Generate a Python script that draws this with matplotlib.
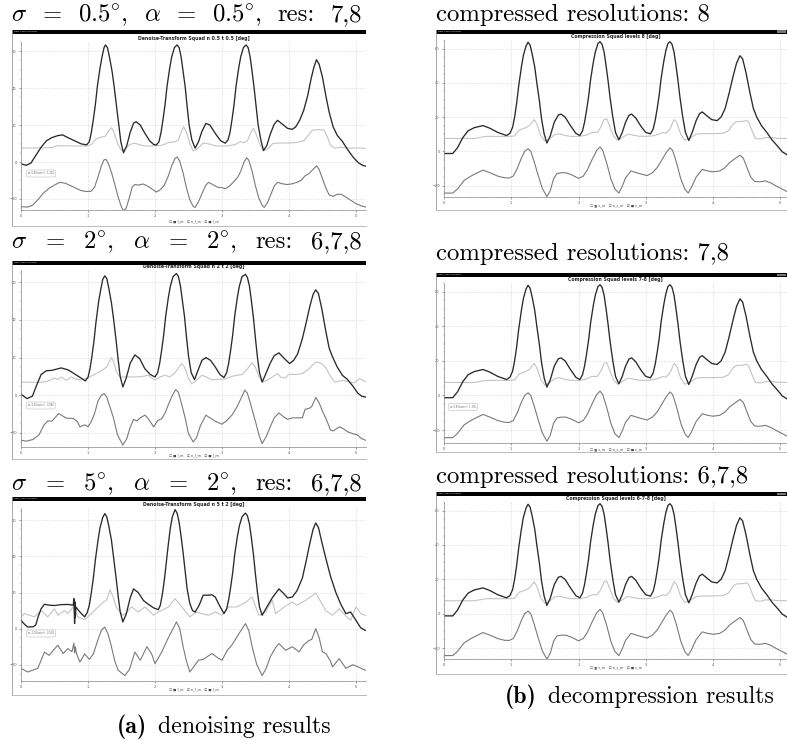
import numpy as np
import matplotlib.pyplot as plt
from matplotlib.patches import Rectangle
from matplotlib.lines import Line2D

plt.rcParams['mathtext.fontset'] = 'cm'

# ---- data: (x, deg) pairs ----
# left column, sigma 0.5 / alpha 0.5
a1_dark = [(0, -1.0), (0.08, -1.8), (0.15, -0.5), (0.22, 3.5), (0.3, 8), (0.38, 11.5), (0.46, 13.2), (0.55, 14.3),
           (0.62, 14.7), (0.7, 13.2), (0.8, 11.5), (0.9, 9.8),
           (0.98, 9.3), (1.02, 11), (1.05, 16), (1.08, 23), (1.11, 31), (1.14, 41), (1.18, 51), (1.21, 57),
           (1.24, 62), (1.26, 63.4), (1.29, 62), (1.32, 57), (1.36, 49), (1.39, 41), (1.43, 29), (1.46, 20),
           (1.49, 11), (1.53, 5),
           (1.58, 9), (1.63, 16), (1.68, 21), (1.72, 21.8), (1.78, 20), (1.85, 15.5), (1.92, 11.5), (1.98, 9.5),
           (2.02, 9.2), (2.06, 11), (2.09, 16), (2.12, 23), (2.15, 31), (2.18, 41), (2.22, 51), (2.25, 57),
           (2.29, 62), (2.33, 63.4), (2.36, 62), (2.39, 57), (2.42, 49), (2.45, 41), (2.48, 30), (2.51, 20),
           (2.55, 12), (2.6, 7.5),
           (2.65, 11), (2.7, 16.5), (2.76, 20.9), (2.82, 20), (2.9, 15.5), (2.98, 11.5),
           (3.05, 10.2), (3.09, 12), (3.12, 16), (3.15, 23), (3.18, 31), (3.21, 41), (3.25, 51), (3.28, 57),
           (3.32, 62), (3.36, 63.4), (3.39, 62), (3.42, 57), (3.45, 49), (3.48, 40), (3.51, 30), (3.54, 20),
           (3.58, 12), (3.62, 6.2),
           (3.67, 9), (3.72, 15), (3.78, 20.5), (3.83, 22.6), (3.9, 20.5), (3.98, 18.2), (4.05, 17.7), (4.1, 19),
           (4.16, 22.6), (4.22, 28), (4.28, 36), (4.33, 45), (4.37, 51), (4.41, 55.4), (4.45, 53), (4.5, 46),
           (4.55, 36), (4.6, 27), (4.66, 19), (4.72, 14.5), (4.8, 11), (4.88, 6.5), (4.96, 2.5), (5.04, -0.5),
           (5.1, -1.8), (5.15, -2.3)]
a1_light = [(0, 7.6), (0.3, 7.6), (0.45, 7.8), (0.55, 8.8), (0.7, 8.8), (0.9, 8.6), (1.0, 8.8), (1.05, 9.5),
            (1.12, 12.5), (1.2, 13.5), (1.26, 14), (1.3, 16.5), (1.35, 18.6), (1.39, 16), (1.44, 10), (1.5, 6.2),
            (1.55, 6.5), (1.62, 9.5), (1.7, 10.2), (1.8, 9), (1.9, 8.6), (2.0, 8.8), (2.1, 9), (2.2, 10.5),
            (2.3, 11), (2.35, 12), (2.4, 17), (2.43, 19), (2.47, 16), (2.52, 10), (2.57, 6), (2.63, 7),
            (2.72, 10.3), (2.8, 9.8), (2.9, 8.8), (3.0, 8.6), (3.1, 8.8), (3.2, 9.5), (3.27, 11), (3.33, 10.5),
            (3.38, 11.5), (3.43, 16), (3.47, 18.2), (3.5, 16), (3.56, 10), (3.62, 6.2), (3.68, 7), (3.76, 10),
            (3.85, 10.3), (4.0, 10.3), (4.12, 10.6), (4.22, 11.5), (4.3, 15), (4.35, 17.3), (4.45, 17.5),
            (4.52, 17.3), (4.57, 14), (4.62, 9), (4.68, 7.5), (4.78, 8), (4.9, 7.5), (5.0, 7.6), (5.15, 7.4)]
a1_mid = [(0, -24.2), (0.1, -24.4), (0.17, -23.5), (0.25, -20.5), (0.33, -17), (0.42, -14.2), (0.5, -12.5),
          (0.58, -11), (0.66, -11.5), (0.74, -12.8), (0.82, -14.2), (0.9, -15.5), (0.98, -16), (1.05, -15.8),
          (1.1, -13.5), (1.15, -8), (1.2, -2), (1.24, 1.2), (1.27, 1.4), (1.3, -0.5), (1.35, -5.5), (1.4, -12),
          (1.45, -19), (1.5, -24.5), (1.53, -26.4), (1.57, -25), (1.62, -19), (1.66, -13.5), (1.7, -12.2),
          (1.76, -12.5), (1.82, -11.9), (1.88, -12.8), (1.95, -14.5), (2.02, -16.3), (2.08, -15), (2.14, -12.5),
          (2.2, -7.5), (2.25, -2), (2.3, 2), (2.33, 2.7), (2.37, 0.5), (2.42, -6), (2.47, -14), (2.52, -20.5),
          (2.57, -24), (2.6, -24.6), (2.65, -21.5), (2.7, -17.2), (2.76, -12.5), (2.8, -11), (2.86, -12.2),
          (2.93, -13.6), (3.0, -13.9), (3.05, -14.5), (3.12, -12.8), (3.18, -10.5), (3.24, -8), (3.28, -5),
          (3.33, 0), (3.37, 2.3), (3.4, 1), (3.45, -5), (3.5, -13), (3.55, -19.5), (3.6, -23.5), (3.63, -24.6),
          (3.68, -22), (3.73, -17.5), (3.78, -13), (3.83, -11), (3.9, -11.8), (3.97, -12.2), (4.05, -11.8),
          (4.12, -11), (4.18, -10), (4.24, -7.5), (4.3, -6.2), (4.36, -4), (4.41, -2.1), (4.45, -4), (4.5, -9),
          (4.55, -14), (4.6, -17.8), (4.66, -18.6), (4.72, -17.5), (4.78, -17.5), (4.85, -19), (4.92, -20.7),
          (5.0, -22.5), (5.08, -23.8), (5.15, -24.4)]

# left column, sigma 2 / alpha 2
a2_dark = [(0, 0.5), (0.09, -1.8), (0.17, -0.5), (0.23, 5), (0.3, 11), (0.38, 13), (0.46, 13.2), (0.6, 14.5),
           (0.7, 13.5), (0.77, 12), (0.88, 9.5),
           (0.96, 7.6), (1.0, 9.5), (1.03, 14), (1.06, 21), (1.09, 29), (1.12, 39), (1.16, 50), (1.19, 56),
           (1.22, 61.5), (1.25, 63.4), (1.28, 62), (1.31, 57), (1.35, 49), (1.38, 41), (1.42, 29), (1.45, 19),
           (1.48, 10), (1.52, 4.4),
           (1.57, 9), (1.63, 17), (1.7, 21.4), (1.77, 19.5), (1.85, 14), (1.93, 11),
           (2.0, 9.7), (2.04, 12), (2.07, 17), (2.1, 24), (2.13, 32), (2.16, 42), (2.2, 52), (2.23, 58),
           (2.27, 63), (2.32, 64.6), (2.35, 63), (2.38, 58), (2.41, 50), (2.44, 42), (2.47, 31), (2.5, 21),
           (2.54, 12), (2.59, 8.3),
           (2.64, 13), (2.7, 18.5), (2.76, 20), (2.83, 18.5), (2.9, 15), (2.97, 11),
           (3.03, 9.4), (3.07, 12), (3.1, 17), (3.13, 24), (3.16, 32), (3.19, 42), (3.23, 52), (3.26, 58),
           (3.3, 63), (3.35, 64.2), (3.38, 62.5), (3.41, 58), (3.44, 50), (3.47, 41), (3.5, 30), (3.53, 20),
           (3.56, 12), (3.6, 7),
           (3.65, 11), (3.72, 17), (3.78, 21), (3.85, 22.5), (3.93, 19.5), (4.01, 16.8), (4.07, 18.5), (4.13, 22),
           (4.2, 30), (4.26, 39), (4.31, 47), (4.36, 53.5), (4.4, 56), (4.44, 54), (4.49, 46), (4.55, 34),
           (4.6, 25), (4.65, 20.4), (4.72, 15), (4.8, 10.5), (4.87, 8.5), (4.95, 5), (5.03, 1), (5.09, -0.6),
           (5.15, -1)]
a2_light = [(0, 7), (0.3, 6.8), (0.4, 7.5), (0.5, 9.2), (0.55, 8.3), (0.6, 9.7), (0.68, 7.9), (0.75, 9.7),
            (0.82, 8.5), (0.9, 8.1), (1.0, 9.2), (1.05, 10.2), (1.15, 12), (1.2, 13), (1.28, 15), (1.35, 20),
            (1.38, 18), (1.43, 12), (1.48, 9.7), (1.6, 9.7), (1.7, 9.7), (1.8, 9.9), (1.9, 10.6), (2.0, 8),
            (2.08, 9.8), (2.15, 10.6), (2.22, 9.7), (2.3, 12), (2.36, 15), (2.4, 16.8), (2.44, 15), (2.5, 9),
            (2.55, 6), (2.62, 8), (2.7, 10.6), (2.78, 9.5), (2.85, 8.1), (2.95, 8.5), (3.05, 8.7), (3.15, 10),
            (3.22, 10.6), (3.3, 11), (3.38, 14), (3.45, 17.2), (3.5, 15), (3.55, 10), (3.6, 7), (3.68, 8),
            (3.75, 9.7), (3.83, 11.5), (3.88, 9.5), (3.95, 9.2), (4.0, 11.2), (4.1, 11), (4.2, 11.5), (4.3, 14),
            (4.38, 17), (4.42, 17.7), (4.5, 16.5), (4.55, 14.5), (4.62, 10), (4.68, 7), (4.75, 7.5), (4.82, 7.9),
            (4.9, 7), (4.97, 6.5), (5.05, 8.8), (5.1, 8), (5.15, 7)]
a2_mid = [(0, -23.9), (0.08, -24.4), (0.18, -23.5), (0.27, -21), (0.34, -16), (0.4, -13.6), (0.46, -13.8),
          (0.52, -11.5), (0.56, -9.7), (0.62, -11), (0.68, -12.2), (0.78, -12.3), (0.84, -14), (0.88, -16.8),
          (0.93, -16), (0.96, -15.8), (1.0, -16.8), (1.05, -14), (1.1, -9.5), (1.15, -3), (1.2, 0), (1.24, 0.9),
          (1.28, -1), (1.33, -6.5), (1.38, -12), (1.44, -21), (1.52, -26.5), (1.58, -23), (1.63, -17),
          (1.68, -12.9), (1.73, -13.6), (1.78, -12), (1.85, -10.6), (1.9, -12.5), (1.98, -16.8), (2.04, -13.5),
          (2.1, -12.5), (2.15, -9.5), (2.2, -5), (2.26, 0), (2.31, 3), (2.35, 1.5), (2.4, -5), (2.45, -12),
          (2.5, -20.4), (2.57, -24.8), (2.62, -22.5), (2.68, -16), (2.76, -10.6), (2.82, -12), (2.9, -13.8),
          (3.0, -15.4), (3.07, -13.5), (3.15, -10.5), (3.22, -6.5), (3.28, -2), (3.34, 2.7), (3.38, 1),
          (3.43, -5), (3.5, -14), (3.56, -22), (3.6, -25.7), (3.66, -22), (3.72, -16.8), (3.78, -12),
          (3.85, -9.4), (3.92, -11.5), (3.98, -12.8), (4.05, -12), (4.12, -12), (4.2, -12), (4.24, -7.5),
          (4.3, -7), (4.34, -6), (4.4, -1.2), (4.45, -4), (4.5, -8.5), (4.56, -13), (4.62, -18.5), (4.66, -19),
          (4.72, -17.5), (4.76, -16.8), (4.82, -18), (4.88, -19.5), (4.95, -20.4), (5.02, -21), (5.08, -23),
          (5.15, -24)]

# left column, sigma 5 / alpha 2
a3_dark = [(0, 4.6), (0.05, 2.5), (0.1, 0.9), (0.18, 1), (0.22, 2), (0.26, 7), (0.3, 11), (0.35, 13.5),
           (0.42, 13), (0.5, 12.8), (0.6, 13.3), (0.7, 13.4), (0.78, 13), (0.79, 16.6), (0.8, 2.8), (0.805, 14.8),
           (0.81, 6), (0.82, 12), (0.86, 10), (0.91, 8),
           (0.95, 6.5), (0.99, 9), (1.02, 13), (1.05, 20), (1.08, 28), (1.11, 38), (1.15, 49), (1.18, 56),
           (1.22, 61.5), (1.25, 63.7), (1.28, 62), (1.31, 57), (1.35, 49), (1.38, 40), (1.42, 28), (1.45, 18),
           (1.48, 9.5), (1.52, 3.7),
           (1.57, 8), (1.63, 17), (1.68, 22), (1.75, 20), (1.83, 15.5), (1.9, 13.5), (1.98, 11.5),
           (2.05, 10.5), (2.08, 13), (2.11, 19), (2.14, 27), (2.17, 37), (2.2, 47), (2.23, 56), (2.26, 62),
           (2.3, 65.9), (2.33, 64), (2.36, 59), (2.39, 51), (2.42, 42), (2.45, 32), (2.48, 22), (2.52, 14),
           (2.56, 10), (2.6, 9.2),
           (2.66, 13), (2.72, 18.5), (2.78, 18.5), (2.85, 18.7), (2.9, 17.5), (2.96, 13),
           (3.03, 8.3), (3.07, 11), (3.1, 16), (3.13, 23), (3.16, 31), (3.19, 41), (3.23, 51), (3.26, 57),
           (3.3, 62), (3.35, 64), (3.38, 62.5), (3.41, 58), (3.44, 50), (3.47, 41), (3.5, 30), (3.53, 20),
           (3.56, 12), (3.6, 7.4),
           (3.67, 12), (3.75, 17), (3.85, 22), (3.92, 19.5), (3.98, 17), (4.05, 17.5), (4.12, 21), (4.2, 28),
           (4.26, 38), (4.31, 47), (4.36, 55), (4.4, 58.5), (4.44, 56), (4.49, 48), (4.55, 39), (4.62, 29),
           (4.7, 20), (4.78, 13), (4.85, 8.3), (4.92, 9.2), (5.0, 4.6), (5.07, 0.5), (5.14, -1)]
a3_light = [(0, 6.5), (0.05, 8.3), (0.12, 7.5), (0.2, 6.5), (0.3, 10), (0.4, 6.5), (0.5, 11), (0.55, 7.4),
            (0.65, 10), (0.7, 8.3), (0.78, 12), (0.85, 6.5), (0.95, 5), (1.05, 8.3), (1.2, 13.8), (1.28, 16),
            (1.33, 21.6), (1.38, 17), (1.42, 12), (1.52, 7.4), (1.58, 9), (1.65, 12), (1.75, 9.2), (1.85, 12),
            (1.98, 7.4), (2.05, 9.2), (2.2, 12), (2.3, 16.6), (2.4, 12), (2.52, 6.5), (2.62, 9.2), (2.7, 8.3),
            (2.8, 7.4), (2.9, 9.2), (3.0, 7.4), (3.1, 12), (3.22, 12), (3.35, 14.5), (3.45, 17.5), (3.55, 7.4),
            (3.65, 9.2), (3.75, 15.7), (3.8, 8.3), (3.93, 12), (4.05, 14.8), (4.12, 13), (4.25, 15.7),
            (4.4, 19.7), (4.55, 10), (4.65, 7.4), (4.75, 11), (4.85, 7), (4.92, 4.6), (5.0, 12), (5.08, 8),
            (5.14, 7.4)]
a3_mid = [(0, -22), (0.1, -24), (0.25, -22), (0.35, -13), (0.42, -14.8), (0.48, -12), (0.55, -9.2),
          (0.63, -13.8), (0.7, -11), (0.76, -12.8), (0.79, -8), (0.8, -13.5), (0.81, -10), (0.83, -14),
          (0.88, -18.5), (0.95, -14), (1.02, -17), (1.08, -14), (1.15, -6), (1.2, -1), (1.25, 0.9), (1.3, -3),
          (1.35, -10), (1.4, -18), (1.45, -23), (1.55, -26), (1.62, -22.5), (1.7, -13), (1.78, -17.5),
          (1.88, -10), (1.95, -14), (2.0, -19.4), (2.1, -13), (2.2, -5), (2.32, 3.7), (2.37, 0), (2.42, -10),
          (2.47, -18), (2.52, -24), (2.6, -20), (2.65, -17.5), (2.72, -17), (2.85, -13.8), (2.95, -16.5),
          (3.0, -17.5), (3.08, -12), (3.15, -9), (3.25, -3), (3.35, 2.8), (3.4, -1), (3.45, -10), (3.52, -20),
          (3.6, -26), (3.66, -22), (3.72, -15.7), (3.8, -10.5), (3.85, -8.3), (3.95, -12), (4.05, -10),
          (4.15, -12.9), (4.22, -9), (4.3, -6.5), (4.34, -6), (4.4, 0), (4.45, -5), (4.5, -12.9), (4.55, -13.8),
          (4.62, -18), (4.65, -21.2), (4.75, -16.6), (4.85, -22), (4.95, -20), (5.02, -21), (5.14, -23)]

# right column (the three compression results look the same)
b_dark = [(0, -1.3), (0.13, -1.3), (0.2, 2), (0.28, 8), (0.36, 12), (0.45, 13.8), (0.58, 15), (0.68, 13.5),
          (0.8, 11),
          (0.93, 9.2), (0.98, 10.5), (1.02, 14), (1.05, 20), (1.08, 28), (1.11, 38), (1.15, 49), (1.18, 56),
          (1.22, 61.5), (1.25, 63.7), (1.28, 62), (1.31, 57), (1.35, 49), (1.38, 40), (1.42, 29), (1.45, 19),
          (1.49, 10), (1.53, 4.8),
          (1.58, 9), (1.64, 17), (1.7, 21.2), (1.74, 21.7), (1.8, 20), (1.88, 15), (1.96, 10.5),
          (2.02, 9.2), (2.06, 12), (2.09, 17), (2.12, 24), (2.15, 32), (2.18, 42), (2.22, 52), (2.25, 58),
          (2.29, 63), (2.32, 64), (2.35, 62.5), (2.38, 58), (2.41, 50), (2.44, 41), (2.47, 31), (2.51, 20),
          (2.55, 11), (2.6, 6.7),
          (2.65, 11), (2.7, 17), (2.75, 21), (2.79, 21.7), (2.85, 19.5), (2.93, 14.5), (3.0, 11),
          (3.07, 10.2), (3.11, 13), (3.14, 18), (3.17, 25), (3.2, 33), (3.23, 43), (3.27, 53), (3.3, 59),
          (3.33, 63), (3.36, 64), (3.39, 62.5), (3.42, 58), (3.45, 50), (3.48, 41), (3.51, 31), (3.55, 20),
          (3.59, 11), (3.64, 6.3),
          (3.69, 11), (3.75, 18), (3.8, 22), (3.84, 23), (3.9, 21), (3.98, 18.5), (4.06, 17.9), (4.12, 20),
          (4.18, 25), (4.24, 34), (4.3, 44), (4.35, 51.5), (4.4, 55.8), (4.44, 54), (4.49, 46), (4.55, 34),
          (4.6, 25), (4.65, 20), (4.72, 15), (4.8, 11), (4.88, 6.5), (4.96, 3), (5.03, -0.3), (5.1, -2)]
b_light = [(0, 7.5), (0.45, 7.5), (0.55, 8.2), (0.62, 8.7), (1.0, 8.7), (1.05, 9), (1.12, 12.5), (1.2, 13.5),
           (1.27, 15), (1.34, 18.5), (1.38, 16), (1.44, 9), (1.5, 6), (1.56, 7), (1.65, 9.8), (1.72, 10.2),
           (1.8, 9.2), (1.9, 8.7), (2.02, 8.7), (2.12, 9.5), (2.2, 11), (2.28, 11), (2.33, 14), (2.38, 18.5),
           (2.42, 19), (2.46, 15), (2.52, 9), (2.58, 6.5), (2.65, 8), (2.73, 10), (2.8, 9.5), (2.9, 8.8),
           (3.0, 8.7), (3.1, 9), (3.2, 10), (3.25, 11), (3.3, 10.5), (3.36, 13), (3.42, 18.5), (3.46, 17),
           (3.52, 10), (3.58, 6.5), (3.65, 7.5), (3.75, 10), (3.85, 10.3), (4.0, 10.3), (4.15, 10.5), (4.23, 12),
           (4.3, 16), (4.35, 17.3), (4.45, 17.5), (4.5, 18), (4.53, 17), (4.58, 12), (4.63, 7.5), (4.7, 7.2),
           (4.78, 8), (4.88, 8), (4.95, 7.6), (5.1, 7.5)]
b_mid = [(0, -24.4), (0.13, -24.4), (0.2, -22), (0.3, -17), (0.4, -14.5), (0.5, -12.5), (0.58, -11),
         (0.68, -12.5), (0.8, -14.5), (0.9, -15.5), (0.97, -15.6), (1.03, -14.5), (1.09, -10), (1.15, -4),
         (1.2, 0), (1.25, 1.5), (1.29, 0), (1.34, -6), (1.4, -14), (1.46, -21.5), (1.53, -26.5), (1.58, -23),
         (1.63, -16), (1.68, -13), (1.75, -12.5), (1.82, -12.6), (1.9, -13.8), (2.0, -15.8), (2.07, -14.5),
         (2.13, -11), (2.2, -5), (2.27, 0.5), (2.32, 2.5), (2.36, 0.5), (2.42, -7), (2.48, -16), (2.54, -22),
         (2.6, -24.4), (2.65, -20.5), (2.7, -15.5), (2.78, -11.5), (2.86, -12.5), (2.95, -13.5), (3.02, -14.2),
         (3.1, -12.5), (3.17, -9.5), (3.24, -5), (3.3, -1), (3.36, 2), (3.4, 0.5), (3.46, -7), (3.52, -16),
         (3.58, -22), (3.63, -24.4), (3.68, -21), (3.75, -15), (3.84, -10.6), (3.92, -11.5), (4.0, -12),
         (4.1, -11.5), (4.18, -9.5), (4.25, -6.5), (4.32, -4.5), (4.4, -2.3), (4.45, -4), (4.5, -9),
         (4.56, -15), (4.62, -17.7), (4.7, -17.8), (4.78, -17.3), (4.86, -18.5), (4.95, -20.5), (5.05, -22.5),
         (5.1, -23.5)]

y_ticks = [-20, 0, 20, 40, 60]
x_ticks = [0, 1, 2, 3, 4, 5]
titles_a = ['Denoise-Transform Squad n 0.5 t 0.5 [deg]', 'Denoise-Transform Squad n 2 t 2 [deg]',
            'Denoise-Transform Squad n 5 t 2 [deg]']
titles_b = ['Compression Squad levels 8 [deg]', 'Compression Squad levels 7-8 [deg]',
            'Compression Squad levels 6-7-8 [deg]']
captions_a = [[r'$\sigma$', '=', r'0.5$^{\circ}$,', r'$\alpha$', '=', r'0.5$^{\circ}$,', 'res:', '7,8'],
              [r'$\sigma$', '=', r'2$^{\circ}$,', r'$\alpha$', '=', r'2$^{\circ}$,', 'res:', '6,7,8'],
              [r'$\sigma$', '=', r'5$^{\circ}$,', r'$\alpha$', '=', r'2$^{\circ}$,', 'res:', '6,7,8']]
captions_b = ['compressed resolutions: 8', 'compressed resolutions: 7,8', 'compressed resolutions: 6,7,8']

W, H = 787, 740
fig = plt.figure(figsize=(W / 100, H / 100), dpi=100)


def fx(x):
    return x / W


def fy(y):
    return 1 - y / H


def draw_panel(win, bar_y, box, ylim, xmax, title, curves, legend, note=None, buttons=False):
    wx0, wx1, wy1 = win
    # window frame (left + bottom edge) and black title bar
    fig.add_artist(Line2D([fx(wx0), fx(wx0)], [fy(bar_y), fy(wy1)], color='#9a9a9a', lw=0.6))
    fig.add_artist(Line2D([fx(wx0), fx(wx1)], [fy(wy1), fy(wy1)], color='#b0b0b0', lw=0.6))
    fig.add_artist(Rectangle((fx(wx0), fy(bar_y + 3.5)), fx(wx1 - wx0), 3.5 / H,
                             transform=fig.transFigure, color='black', lw=0))
    fig.text(fx(wx0 + 2), fy(bar_y + 1.8), 'New Chart Visualizer', fontsize=1.6, color='#dddddd', va='center')
    if buttons:
        fig.add_artist(Rectangle((fx(wx1 - 10), fy(bar_y + 3)), fx(9), 2.5 / H,
                                 transform=fig.transFigure, color='#777777', lw=0))

    x0, y0, x1, y1 = box
    ax = fig.add_axes([fx(x0), fy(y1), fx(x1 - x0), (y1 - y0) / H])
    ax.set_xlim(0, xmax)
    ax.set_ylim(*ylim)
    for pts, col, lw in curves:
        xs = [p[0] for p in pts]
        ys = [p[1] for p in pts]
        ax.plot(xs, ys, color=col, lw=lw)
    ax.set_xticks(x_ticks)
    ax.set_yticks(y_ticks)
    ax.set_yticks(np.arange(-25, 66, 5), minor=True)
    ax.set_xticks(np.arange(0, xmax, 0.2), minor=True)
    ax.grid(True, which='major', color='#d4d4d4', ls=(0, (2, 2)), lw=0.5)
    ax.tick_params(labelsize=2.6, colors='#555555', length=1.5, width=0.4, pad=1.5)
    ax.tick_params(which='minor', length=0.8, width=0.3, colors='#777777')
    for s in ['top', 'right']:
        ax.spines[s].set_visible(False)
    for s in ['left', 'bottom']:
        ax.spines[s].set_color('#888888')
        ax.spines[s].set_linewidth(0.5)
    ax.set_title(title, fontsize=3.3, fontweight='bold', pad=1.2, color='#222222')
    ax.set_facecolor('none')

    fig.text(fx((x0 + x1) / 2), fy(legend[1]), legend[0], fontsize=2.4, color='#444444',
             ha='center', va='center', family='DejaVu Sans')
    if note is not None:
        nx, ny, txt = note
        fig.text(fx(nx), fy(ny), txt, fontsize=1.8, color='#666666', va='center',
                 bbox=dict(boxstyle='round,pad=0.6', fc='white', ec='#bbbbbb', lw=0.4))
    return ax


DARK, LIGHT, MID = '#2a2a2a', '#c4c4c4', '#7a7a7a'
leg_a = '\u2610 \u25a0 l_m   \u2611 n_l_m   \u2611 \u25a0 l_m'
leg_b = '\u2610 \u25a3 c_m   \u2611 n_c_m   \u2611 \u25a0 c_m'


def trio(light, mid, dark):
    return [(light, LIGHT, 0.8), (mid, MID, 0.8), (dark, DARK, 0.95)]


# left column
draw_panel((12, 366, 226), 30, (21, 42, 366, 210), (-26, 63), 5.15, titles_a[0],
           trio(a1_light, a1_mid, a1_dark), (leg_a, 221), note=(28, 173.5, 'w: 0.5(factor) : 1.205'))
draw_panel((12, 366, 459), 261, (21, 270, 366, 447), (-27.5, 66.5), 5.15, titles_a[1],
           trio(a2_light, a2_mid, a2_dark), (leg_a, 455), note=(28, 405.5, 'w: 2.0(factor) : 0.960'))
draw_panel((12, 366, 695), 497, (21, 508, 366, 681), (-29, 66.8), 5.15, titles_a[2],
           trio(a3_light, a3_mid, a3_dark), (leg_a, 689), note=(28, 633.5, 'w: 2.0(factor) : 2.501'))

# right column
draw_panel((436, 787, 210), 30, (444, 40, 787, 197), (-26.7, 64.2), 5.1, titles_b[0],
           trio(b_light, b_mid, b_dark), (leg_b, 206), buttons=True)
draw_panel((436, 787, 452), 273, (444, 283, 787, 443), (-27.5, 64.4), 5.1, titles_b[1],
           trio(b_light, b_mid, b_dark), (leg_b, 450), note=(450, 407, 'w: 0.5(factor) : 1.195'), buttons=True)
draw_panel((436, 787, 674), 492, (444, 502, 787, 659), (-26.4, 64.2), 5.1, titles_b[2],
           trio(b_light, b_mid, b_dark), (leg_b, 668), buttons=True)

# captions, Computer Modern like the LaTeX source
CAP = 17.8
SUB = 17.2
RM = 'cmr10'
renderer = fig.canvas.get_renderer()


def justified(tokens, base_y, left=11, right=362):
    # justified line: equal stretched gaps between the words
    texts = [fig.text(0, fy(base_y), t, fontsize=CAP, va='baseline', family=RM) for t in tokens]
    widths = [t.get_window_extent(renderer).width for t in texts]
    gap = (right - left - sum(widths)) / (len(texts) - 1)
    x = left
    for t, w in zip(texts, widths):
        t.set_x(fx(x))
        x += w + gap


justified(captions_a[0], 21)
justified(captions_a[1], 248)
justified(captions_a[2], 490)

fig.text(fx(436), fy(21), captions_b[0], fontsize=CAP, va='baseline', family=RM)
fig.text(fx(436), fy(260), captions_b[1], fontsize=CAP, va='baseline', family=RM)
fig.text(fx(436), fy(483), captions_b[2], fontsize=CAP, va='baseline', family=RM)

fig.text(fx(117), fy(733), '(a)', fontsize=SUB, va='baseline', family='cmb10')
fig.text(fx(158), fy(733), 'denoising results', fontsize=SUB, va='baseline', family=RM)
fig.text(fx(505), fy(703), '(b)', fontsize=SUB, va='baseline', family='cmb10')
fig.text(fx(548), fy(703), 'decompression results', fontsize=SUB, va='baseline', family=RM)

fig.savefig('out.png', dpi=100)
